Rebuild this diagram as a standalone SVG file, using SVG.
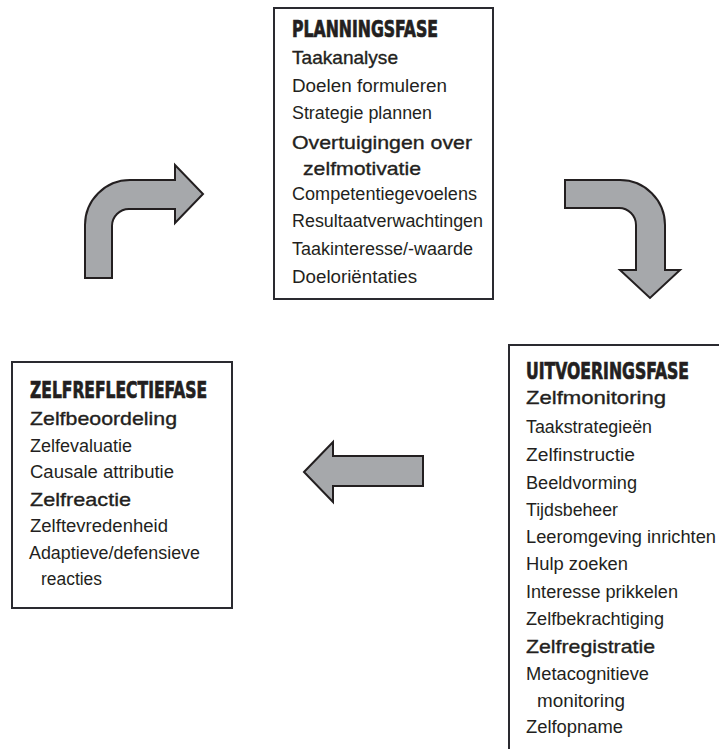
<svg xmlns="http://www.w3.org/2000/svg" width="719" height="749" viewBox="0 0 719 749">
<style>
.box{fill:#fff;stroke:#2a2a30;stroke-width:2}
.arr{fill:#a6a8ab;stroke:#231f20;stroke-width:2;stroke-linejoin:miter}
text{font-family:"Liberation Sans",Arial,sans-serif;fill:#231f20}
.t{font-family:"Liberation Sans Narrow","DejaVu Sans Condensed","Liberation Sans",sans-serif;font-weight:bold;font-size:23px;stroke:#231f20;stroke-width:0.7}
.h{font-size:18.5px;stroke:#231f20;stroke-width:0.35}
.i{font-size:17.5px}
</style>
<rect width="719" height="749" fill="#fff"/>
<g id="connectors">
<path class="arr" d="M85,278 L85,225 A45,45 0 0 1 130,180 L175,180 L175,165 L203,194 L175,223 L175,209 L129,209 A17,17 0 0 0 112,226 L112,278 Z"/>
<path class="arr" d="M565,180 L620,180 A45,45 0 0 1 665,225 L665,270 L680,270 L650,298 L620,270 L636,270 L636,225 A17,17 0 0 0 619,208 L565,208 Z"/>
<path class="arr" d="M304,472 L333,442 L333,456 L423,456 L423,486 L333,486 L333,502 Z"/>
</g>
<g id="planningsfase">
<rect class="box" x="274" y="8" width="219" height="291"/>
<text class="t" x="292" y="37" textLength="146" lengthAdjust="spacingAndGlyphs">PLANNINGSFASE</text>
<text class="h" x="292" y="64" textLength="106" lengthAdjust="spacingAndGlyphs">Taakanalyse</text>
<text class="i" x="292" y="92" textLength="155" lengthAdjust="spacingAndGlyphs">Doelen formuleren</text>
<text class="i" x="292" y="119" textLength="140" lengthAdjust="spacingAndGlyphs">Strategie plannen</text>
<text class="h" x="292" y="149" textLength="180" lengthAdjust="spacingAndGlyphs">Overtuigingen over</text>
<text class="h" x="303" y="175" textLength="118" lengthAdjust="spacingAndGlyphs">zelfmotivatie</text>
<text class="i" x="292" y="200" textLength="185" lengthAdjust="spacingAndGlyphs">Competentiegevoelens</text>
<text class="i" x="292" y="227" textLength="191" lengthAdjust="spacingAndGlyphs">Resultaatverwachtingen</text>
<text class="i" x="292" y="255" textLength="181" lengthAdjust="spacingAndGlyphs">Taakinteresse/-waarde</text>
<text class="i" x="292" y="283" textLength="125" lengthAdjust="spacingAndGlyphs">Doeloriëntaties</text>
</g>
<g id="uitvoeringsfase">
<path d="M719,345 L509,345 L509,749" fill="none" stroke="#2a2a30" stroke-width="2"/>
<text class="t" x="526" y="379" textLength="163" lengthAdjust="spacingAndGlyphs">UITVOERINGSFASE</text>
<text class="h" x="526" y="404" textLength="140" lengthAdjust="spacingAndGlyphs">Zelfmonitoring</text>
<text class="i" x="526" y="433" textLength="126" lengthAdjust="spacingAndGlyphs">Taakstrategieën</text>
<text class="i" x="526" y="461" textLength="109" lengthAdjust="spacingAndGlyphs">Zelfinstructie</text>
<text class="i" x="526" y="489" textLength="111" lengthAdjust="spacingAndGlyphs">Beeldvorming</text>
<text class="i" x="526" y="516" textLength="92" lengthAdjust="spacingAndGlyphs">Tijdsbeheer</text>
<text class="i" x="526" y="543" textLength="190" lengthAdjust="spacingAndGlyphs">Leeromgeving inrichten</text>
<text class="i" x="526" y="570" textLength="102" lengthAdjust="spacingAndGlyphs">Hulp zoeken</text>
<text class="i" x="526" y="598" textLength="152" lengthAdjust="spacingAndGlyphs">Interesse prikkelen</text>
<text class="i" x="526" y="625" textLength="138" lengthAdjust="spacingAndGlyphs">Zelfbekrachtiging</text>
<text class="h" x="526" y="653" textLength="129" lengthAdjust="spacingAndGlyphs">Zelfregistratie</text>
<text class="i" x="526" y="680" textLength="123" lengthAdjust="spacingAndGlyphs">Metacognitieve</text>
<text class="i" x="537" y="707" textLength="88" lengthAdjust="spacingAndGlyphs">monitoring</text>
<text class="i" x="526" y="733" textLength="97" lengthAdjust="spacingAndGlyphs">Zelfopname</text>
</g>
<g id="zelfreflectiefase">
<rect class="box" x="12" y="362" width="220" height="246"/>
<text class="t" x="30" y="398" textLength="177" lengthAdjust="spacingAndGlyphs">ZELFREFLECTIEFASE</text>
<text class="h" x="30" y="425" textLength="147" lengthAdjust="spacingAndGlyphs">Zelfbeoordeling</text>
<text class="i" x="30" y="452" textLength="102" lengthAdjust="spacingAndGlyphs">Zelfevaluatie</text>
<text class="i" x="30" y="478" textLength="144" lengthAdjust="spacingAndGlyphs">Causale attributie</text>
<text class="h" x="30" y="506" textLength="101" lengthAdjust="spacingAndGlyphs">Zelfreactie</text>
<text class="i" x="30" y="532" textLength="138" lengthAdjust="spacingAndGlyphs">Zelftevredenheid</text>
<text class="i" x="29" y="559" textLength="171" lengthAdjust="spacingAndGlyphs">Adaptieve/defensieve</text>
<text class="i" x="41" y="585" textLength="61" lengthAdjust="spacingAndGlyphs">reacties</text>
</g>
</svg>
